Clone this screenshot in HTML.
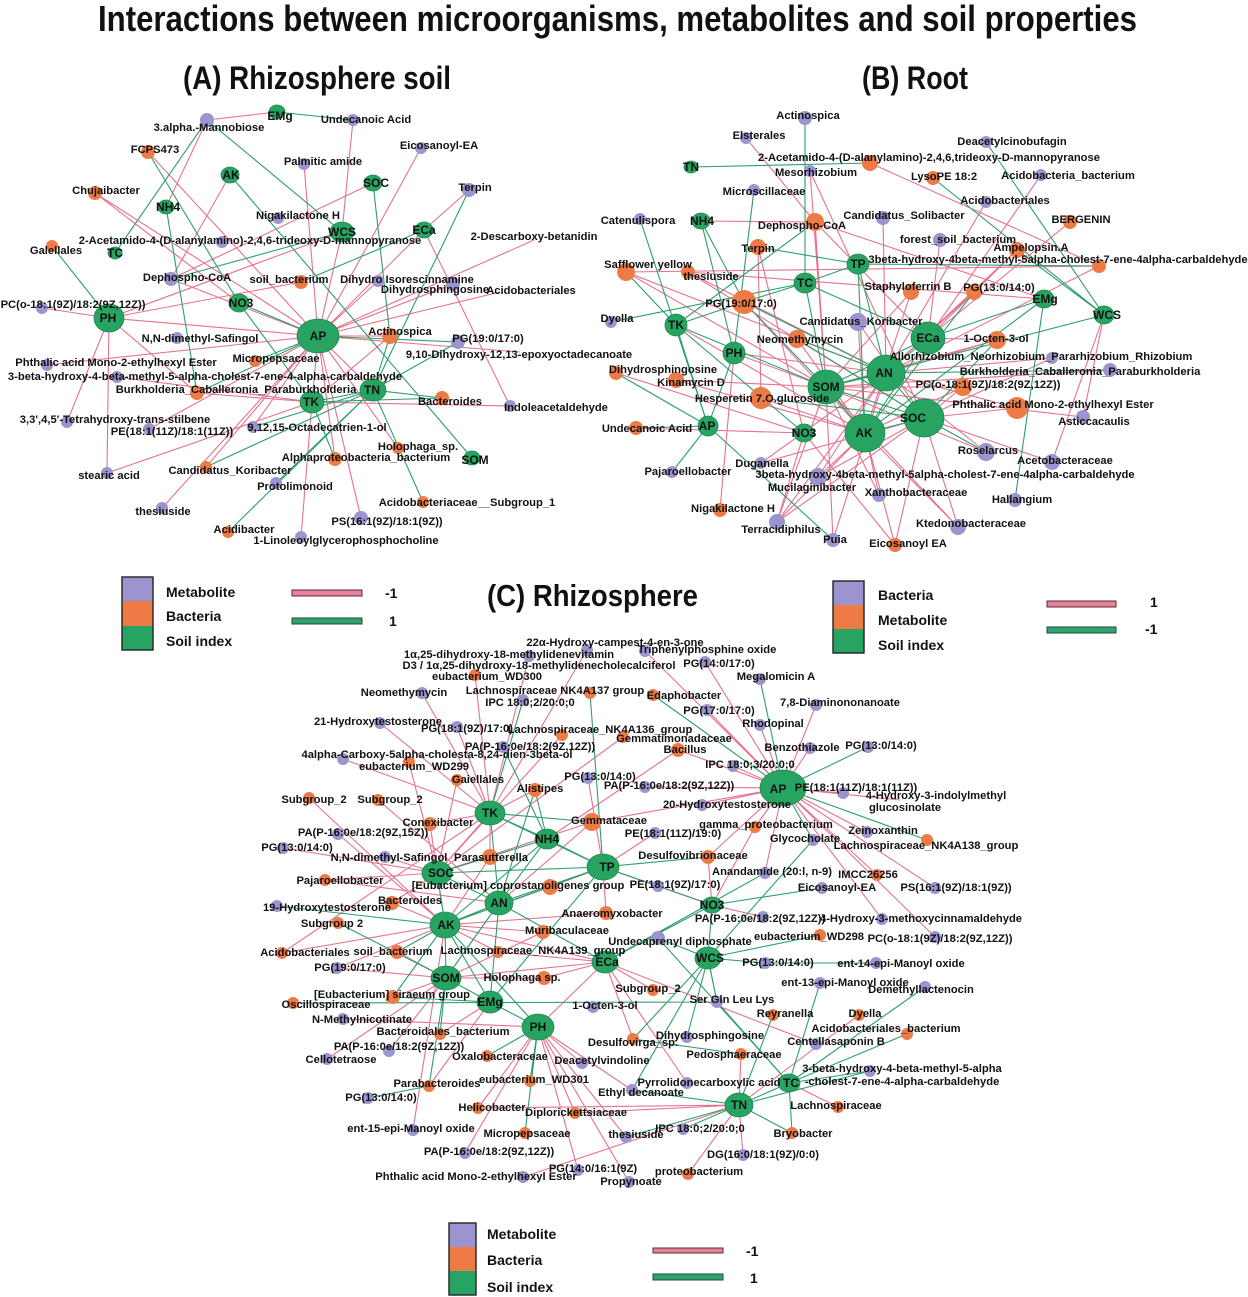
<!DOCTYPE html>
<html><head><meta charset="utf-8"><style>
html,body{margin:0;padding:0;background:#fff}
svg{display:block}
.p{stroke:#e5728f;stroke-width:1.1;fill:none}
.g{stroke:#2e9e6b;stroke-width:1.1;fill:none}
.m{fill:#9b94cf}
.b{fill:#ee7a45}
.s{fill:#28a462;stroke:#1d8a4e;stroke-width:.8}
text{font-family:"Liberation Sans",Arial,sans-serif;font-weight:bold;fill:#111}
.l text{font-size:11.2px;text-anchor:middle}
.h text{font-size:12px;text-anchor:middle}
.lg text{font-size:14px}
</style></head><body>
<svg width="1248" height="1297" viewBox="0 0 1248 1297" xmlns="http://www.w3.org/2000/svg">
<rect width="1248" height="1297" fill="#fff"/>
<text x="98" y="31" font-size="36" textLength="1039" lengthAdjust="spacingAndGlyphs">Interactions between microorganisms, metabolites and soil properties</text>
<text x="183" y="89" font-size="32" textLength="268" lengthAdjust="spacingAndGlyphs">(A) Rhizosphere soil</text>
<text x="862" y="89" font-size="32" textLength="106" lengthAdjust="spacingAndGlyphs">(B) Root</text>
<text x="487" y="606" font-size="31" textLength="211" lengthAdjust="spacingAndGlyphs">(C) Rhizosphere</text>

<!-- ===== Panel A edges ===== -->
<path class="p" d="M207 120L277 112M207 120L166 207M353 120L342 232M148 152L318 336M230 175L171 279M95 193L318 336M95 193L239 303M304 164L318 336M421 148L318 336M373 183L171 279M469 190L424 230M342 232L318 336M342 232L109 318M424 230L318 336M424 230L510 406M42 308L109 318M301 282L109 318M171 279L318 336M318 336L109 318M390 336L318 336M390 336L312 402M67 422L109 318M107 473L109 318M107 473L312 402M197 393L312 402M197 393L109 318M312 402L318 336M373 390L318 336M312 402L510 406M253 427L318 336M398 448L318 336M335 459L318 336M162 508L318 336M361 518L318 336M301 537L312 402M149 429L318 336M117 377L312 402M378 281L318 336M453 284L318 336M534 240L318 336M500 292L318 336M206 467L318 336M520 352L318 336M47 365L318 336"/>
<path class="g" d="M277 112L353 120M207 120L342 232M207 120L115 253M148 152L239 303M230 175L472 458M166 207L197 393M373 183L390 336M469 190L373 390M342 232L171 279M301 282L424 230M52 246L109 318M239 303L318 336M239 303L312 402M458 342L318 336M458 342L373 390M255 361L318 336M390 336L373 390M312 402L373 390M442 398L312 402M253 427L373 390M335 459L312 402M206 467L373 390M276 483L373 390M423 502L373 390M228 532L373 390M197 393L318 336M442 398L373 390"/>

<!-- ===== Panel B edges ===== -->
<path class="p" d="M746 138L815 222M1041 175L928 338M986 202L886 373M701 221L815 222M815 222L826 387M815 222L1044 299M815 222L928 338M883 218L886 373M1070 222L928 338M940 240L928 338M1017 250L928 338M1017 250L886 373M758 247L761 398M758 247L804 433M626 272L886 373M626 272L826 387M688 272L886 373M688 272L924 418M688 272L1044 299M911 292L865 433M911 292L826 387M974 292L886 373M744 302L865 433M676 325L865 433M858 322L865 433M858 322L924 418M928 338L997 340M997 340L886 373M997 340L826 387M797 339L865 433M734 353L886 373M734 353L826 387M1052 358L886 373M1052 358L924 418M1110 370L826 387M616 373L804 433M676 380L826 387M676 380L865 433M963 387L826 387M963 387L865 433M963 387L924 418M761 398L865 433M1017 408L924 418M1017 408L886 373M1083 417L826 387M1083 417L1104 315M636 428L804 433M804 433L777 522M804 433L895 545M986 452L826 387M986 452L886 373M1052 462L924 418M1052 462L1104 315M761 463L886 373M818 477L865 433M818 477L924 418M818 477L886 373M879 495L865 433M879 495L826 387M720 510L734 353M958 527L924 418M958 527L865 433M958 527L826 387M777 522L865 433M777 522L826 387M777 522L886 373M777 522L924 418M833 540L886 373M833 540L826 387M895 545L865 433M895 545L924 418M810 171L924 418M810 171L826 387M626 272L1099 266M761 463L924 418M1099 266L886 373M870 163L1099 266"/>
<path class="g" d="M805 118L805 283M691 167L870 163M986 142L1104 315M933 178L1104 315M754 190L734 353M640 219L708 426M815 222L676 325M758 247L858 264M626 272L676 325M858 264L805 283M858 264L886 373M858 264L865 433M858 264L1099 266M805 283L744 302M805 283L928 338M805 283L826 387M974 292L865 433M1044 299L928 338M1044 299L1015 500M1044 299L865 433M744 302L701 221M744 302L676 325M744 302L826 387M744 302L886 373M611 322L805 283M676 325L708 426M676 325L826 387M676 325L804 433M928 338L826 387M928 338L865 433M928 338L886 373M997 340L924 418M797 339L886 373M797 339L924 418M734 353L708 426M734 353L701 221M1110 370L886 373M616 373L708 426M761 398L924 418M924 418L886 373M924 418L865 433M865 433L826 387M886 373L826 387M924 418L826 387M636 428L708 426M708 426L672 472M708 426L833 540M986 452L924 418M1104 315L826 387M1017 250L1104 315"/>

<!-- ===== Panel C edges ===== -->
<path class="p" d="M587 650L490 813M529 656L490 813M475 675L490 813M645 651L783 788M705 662L783 788M816 705L783 788M422 693L490 813M380 723L490 813M457 727L490 813M562 735L437 873M707 710L783 788M760 725L783 788M810 748L783 788M733 766L783 788M343 759L490 813M409 762L437 873M678 750L783 788M678 750L547 839M623 737L437 873M457 780L437 873M588 778L603 867M645 787L783 788M535 790L490 813M309 798L445 925M378 800L499 903M702 805L783 788M490 813L437 873M430 824L490 813M430 824L445 925M592 822L783 788M592 822L437 873M592 822L499 903M755 827L783 788M755 827L712 905M867 832L783 788M338 834L445 925M655 833L603 867M283 848L437 873M385 857L437 873M490 857L437 873M490 857L445 925M490 857L490 813M708 857L783 788M708 857L712 905M603 867L712 905M765 873L783 788M877 875L783 788M783 788L935 888M325 880L437 873M325 880L499 903M550 887L603 867M550 887L445 925M658 886L712 905M658 886L603 867M392 903L437 873M392 903L445 925M606 913L603 867M606 913L445 925M763 917L712 905M882 919L783 788M935 937L783 788M543 932L445 925M543 932L446 978M282 953L445 925M282 953L490 813M397 952L446 978M498 952L605 962M498 952L445 925M445 925L605 962M605 962L446 978M605 962L538 1027M605 962L653 990M605 962L816 1044M337 968L446 978M337 968L445 925M544 978L446 978M544 978L605 962M393 997L446 978M343 1019L538 1027M538 1027L582 1063M538 1027L575 1113M538 1027L629 1182M538 1027L578 1170M538 1027L478 1108M538 1027L465 1153M538 1027L626 1137M538 1027L632 1090M741 1054L739 1105M478 1108L739 1105M523 1177L739 1105M743 1155L739 1105M688 1174L739 1105M739 1105L859 1015M838 1107L789 1083M717 1002L708 958M327 1059L446 978M389 1051L446 978M413 1130L445 925M440 1034L490 1002M429 1086L490 1002M633 1039L605 962M575 1113L739 1105M843 793L783 788M900 800L783 788M687 1083L605 962"/>
<path class="g" d="M590 693L603 867M523 700L490 813M760 679L783 788M653 695L783 788M868 747L783 788M503 747L547 839M535 790L547 839M535 790L499 903M490 813L603 867M490 813L547 839M490 813L499 903M490 813L592 822M927 840L783 788M813 840L783 788M813 840L708 958M547 839L603 867M547 839L437 873M547 839L499 903M547 839L445 925M708 857L603 867M603 867L437 873M603 867L499 903M603 867L445 925M603 867L490 1002M765 873L605 962M822 888L712 905M277 906L445 925M499 903L437 873M499 903L445 925M499 903L446 978M499 903L605 962M499 903L490 1002M712 905L603 867M712 905L605 962M712 905L708 958M338 923L446 978M445 925L446 978M445 925L437 873M445 925L490 1002M658 938L708 958M658 938L789 1083M820 935L708 958M708 958L765 963M765 963L876 963M708 958L717 1002M708 958L633 1039M708 958L632 1090M708 958L687 1037M820 983L789 1083M925 987L789 1083M907 1034L789 1083M870 1071L789 1083M870 1071L739 1105M773 1015L739 1105M717 1002L789 1083M446 978L490 1002M397 952L445 925M393 997L445 925M393 997L490 1002M490 1002L538 1027M293 1003L717 1002M538 1027L445 925M538 1027L487 1056M538 1027L530 1081M538 1027L525 1133M440 1034L446 978M429 1086L368 1098M429 1086L446 978M683 1129L739 1105M626 1137L739 1105M792 1133L739 1105M792 1133L789 1083M739 1105L789 1083M632 1090L739 1105M633 1039L741 1054"/>

<!-- ===== Panel A nodes ===== -->
<g>
<circle class="m" cx="207" cy="120" r="7"/><circle class="m" cx="353" cy="120" r="6"/><circle class="m" cx="421" cy="148" r="6"/><circle class="m" cx="304" cy="164" r="6"/><circle class="m" cx="469" cy="190" r="7"/><circle class="m" cx="278" cy="218" r="6"/><circle class="m" cx="222" cy="242" r="6"/><circle class="m" cx="171" cy="279" r="7"/><circle class="m" cx="378" cy="281" r="6"/><circle class="m" cx="453" cy="284" r="7"/><circle class="m" cx="42" cy="308" r="6"/><circle class="m" cx="458" cy="342" r="7"/><circle class="m" cx="177" cy="338" r="6"/><circle class="m" cx="47" cy="365" r="6"/><circle class="m" cx="117" cy="377" r="6"/><circle class="m" cx="510" cy="406" r="6"/><circle class="m" cx="67" cy="422" r="6"/><circle class="m" cx="149" cy="429" r="6"/><circle class="m" cx="253" cy="427" r="6"/><circle class="m" cx="107" cy="473" r="6"/><circle class="m" cx="276" cy="483" r="6"/><circle class="m" cx="162" cy="508" r="6"/><circle class="m" cx="361" cy="518" r="7"/><circle class="m" cx="301" cy="537" r="6"/>
<circle class="b" cx="148" cy="152" r="7"/><circle class="b" cx="95" cy="193" r="7"/><circle class="b" cx="52" cy="246" r="6"/><circle class="b" cx="301" cy="282" r="7"/><circle class="b" cx="390" cy="336" r="8"/><circle class="b" cx="255" cy="361" r="6"/><circle class="b" cx="197" cy="393" r="7"/><circle class="b" cx="442" cy="398" r="7"/><circle class="b" cx="398" cy="448" r="6"/><circle class="b" cx="335" cy="459" r="7"/><circle class="b" cx="206" cy="467" r="6"/><circle class="b" cx="423" cy="502" r="6"/><circle class="b" cx="228" cy="532" r="6"/>
<ellipse class="s" cx="277" cy="112" rx="8" ry="7"/><ellipse class="s" cx="230" cy="175" rx="9" ry="8"/><ellipse class="s" cx="373" cy="183" rx="9" ry="8"/><ellipse class="s" cx="166" cy="207" rx="8" ry="7"/><ellipse class="s" cx="342" cy="232" rx="12" ry="10"/><ellipse class="s" cx="424" cy="230" rx="9" ry="8"/><ellipse class="s" cx="115" cy="253" rx="7" ry="6"/><ellipse class="s" cx="239" cy="303" rx="10" ry="9"/><ellipse class="s" cx="109" cy="318" rx="15" ry="14"/><ellipse class="s" cx="318" cy="336" rx="21" ry="17"/><ellipse class="s" cx="373" cy="390" rx="13" ry="11"/><ellipse class="s" cx="312" cy="402" rx="12" ry="11"/><ellipse class="s" cx="472" cy="458" rx="8" ry="7"/>
</g>
<g class="l">
<text x="209" y="131">3.alpha.-Mannobiose</text><text x="366" y="123">Undecanoic Acid</text><text x="155" y="153">FCPS473</text><text x="439" y="149">Eicosanoyl-EA</text><text x="323" y="165">Palmitic amide</text><text x="475" y="191">Terpin</text><text x="106" y="194">Chujaibacter</text><text x="298" y="219">Nigakilactone H</text><text x="534" y="240">2-Descarboxy-betanidin</text><text x="250" y="244">2-Acetamido-4-(D-alanylamino)-2,4,6-trideoxy-D-mannopyranose</text><text x="56" y="254">Galellales</text><text x="187" y="281">Dephospho-CoA</text><text x="289" y="283">soil_bacterium</text><text x="407" y="283">Dihydro Isorescinnamine</text><text x="435" y="293">Dihydrosphingosine</text><text x="531" y="294">Acidobacteriales</text><text x="73" y="308">PC(o-18:1(9Z)/18:2(9Z,12Z))</text><text x="400" y="335">Actinospica</text><text x="488" y="342">PG(19:0/17:0)</text><text x="519" y="358">9,10-Dihydroxy-12,13-epoxyoctadecanoate</text><text x="200" y="342">N,N-dimethyl-Safingol</text><text x="116" y="366">Phthalic acid Mono-2-ethylhexyl Ester</text><text x="276" y="362">Micropepsaceae</text><text x="205" y="380">3-beta-hydroxy-4-beta-methyl-5-alpha-cholest-7-ene-4-alpha-carbaldehyde</text><text x="236" y="393">Burkholderia_Caballeronia_Paraburkholderia</text><text x="450" y="405">Bacteroides</text><text x="556" y="411">Indoleacetaldehyde</text><text x="115" y="423">3,3',4,5'-Tetrahydroxy-trans-stilbene</text><text x="172" y="435">PE(18:1(11Z)/18:1(11Z))</text><text x="317" y="431">9,12,15-Octadecatrien-1-ol</text><text x="418" y="450">Holophaga_sp.</text><text x="366" y="461">Alphaproteobacteria_bacterium</text><text x="109" y="479">stearic acid</text><text x="230" y="474">Candidatus_Koribacter</text><text x="295" y="490">Protolimonoid</text><text x="467" y="506">Acidobacteriaceae__Subgroup_1</text><text x="163" y="515">thesiuside</text><text x="387" y="525">PS(16:1(9Z)/18:1(9Z))</text><text x="244" y="533">Acidibacter</text><text x="346" y="544">1-Linoleoylglycerophosphocholine</text>
</g>
<g class="h">
<text x="280" y="120">EMg</text><text x="231" y="179">AK</text><text x="376" y="187">SOC</text><text x="168" y="211">NH4</text><text x="342" y="236">WCS</text><text x="424" y="234">ECa</text><text x="115" y="257">TC</text><text x="241" y="307">NO3</text><text x="108" y="322">PH</text><text x="318" y="340">AP</text><text x="372" y="394">TN</text><text x="311" y="406">TK</text><text x="475" y="464">SOM</text>
</g>

<!-- ===== Panel B nodes ===== -->
<g>
<circle class="m" cx="805" cy="118" r="7"/><circle class="m" cx="746" cy="138" r="6"/><circle class="m" cx="986" cy="142" r="6"/><circle class="m" cx="810" cy="171" r="6"/><circle class="m" cx="1041" cy="175" r="6"/><circle class="m" cx="754" cy="190" r="6"/><circle class="m" cx="986" cy="202" r="6"/><circle class="m" cx="640" cy="219" r="6"/><circle class="m" cx="883" cy="218" r="7"/><circle class="m" cx="940" cy="240" r="7"/><circle class="m" cx="611" cy="322" r="6"/><circle class="m" cx="858" cy="322" r="9"/><circle class="m" cx="1052" cy="358" r="6"/><circle class="m" cx="1110" cy="370" r="7"/><circle class="m" cx="1083" cy="417" r="7"/><circle class="m" cx="986" cy="452" r="9"/><circle class="m" cx="1052" cy="462" r="8"/><circle class="m" cx="761" cy="463" r="6"/><circle class="m" cx="672" cy="472" r="6"/><circle class="m" cx="818" cy="477" r="9"/><circle class="m" cx="879" cy="495" r="7"/><circle class="m" cx="1015" cy="500" r="7"/><circle class="m" cx="958" cy="527" r="8"/><circle class="m" cx="777" cy="522" r="8"/><circle class="m" cx="833" cy="540" r="7"/>
<circle class="b" cx="870" cy="163" r="8"/><circle class="b" cx="933" cy="178" r="7"/><circle class="b" cx="815" cy="222" r="9"/><circle class="b" cx="1070" cy="222" r="7"/><circle class="b" cx="1017" cy="250" r="8"/><circle class="b" cx="758" cy="247" r="8"/><circle class="b" cx="626" cy="272" r="9"/><circle class="b" cx="688" cy="272" r="7"/><circle class="b" cx="1099" cy="266" r="7"/><circle class="b" cx="911" cy="292" r="8"/><circle class="b" cx="974" cy="292" r="8"/><circle class="b" cx="744" cy="302" r="12"/><circle class="b" cx="997" cy="340" r="9"/><circle class="b" cx="797" cy="339" r="9"/><circle class="b" cx="616" cy="373" r="7"/><circle class="b" cx="676" cy="380" r="8"/><circle class="b" cx="963" cy="387" r="9"/><circle class="b" cx="761" cy="398" r="11"/><circle class="b" cx="1017" cy="408" r="11"/><circle class="b" cx="636" cy="428" r="7"/><circle class="b" cx="720" cy="510" r="7"/><circle class="b" cx="895" cy="545" r="7"/>
<ellipse class="s" cx="691" cy="167" rx="7" ry="6"/><ellipse class="s" cx="701" cy="221" rx="9" ry="8"/><ellipse class="s" cx="858" cy="264" rx="11" ry="10"/><ellipse class="s" cx="805" cy="283" rx="11" ry="10"/><ellipse class="s" cx="1044" cy="299" rx="10" ry="9"/><ellipse class="s" cx="1104" cy="315" rx="10" ry="9"/><ellipse class="s" cx="676" cy="325" rx="11" ry="11"/><ellipse class="s" cx="928" cy="338" rx="17" ry="16"/><ellipse class="s" cx="734" cy="353" rx="11" ry="11"/><ellipse class="s" cx="886" cy="373" rx="19" ry="18"/><ellipse class="s" cx="826" cy="387" rx="18" ry="17"/><ellipse class="s" cx="924" cy="418" rx="20" ry="19"/><ellipse class="s" cx="865" cy="433" rx="20" ry="19"/><ellipse class="s" cx="708" cy="426" rx="10" ry="10"/><ellipse class="s" cx="804" cy="433" rx="10" ry="9"/>
</g>
<g class="l">
<text x="808" y="119">Actinospica</text><text x="759" y="139">Elsterales</text><text x="1012" y="145">Deacetylcinobufagin</text><text x="929" y="161">2-Acetamido-4-(D-alanylamino)-2,4,6,trideoxy-D-mannopyranose</text><text x="816" y="176">Mesorhizobium</text><text x="944" y="180">LysoPE 18:2</text><text x="1068" y="179">Acidobacteria_bacterium</text><text x="764" y="195">Microscillaceae</text><text x="1005" y="204">Acidobacteriales</text><text x="638" y="224">Catenulispora</text><text x="802" y="229">Dephospho-CoA</text><text x="904" y="219">Candidatus_Solibacter</text><text x="1081" y="223">BERGENIN</text><text x="958" y="243">forest_soil_bacterium</text><text x="1031" y="251">Ampelopsin.A</text><text x="758" y="252">Terpin</text><text x="648" y="268">Safflower yellow</text><text x="711" y="280">thesiuside</text><text x="1058" y="263">3beta-hydroxy-4beta-methyl-5alpha-cholest-7-ene-4alpha-carbaldehyde</text><text x="908" y="290">Staphyloferrin B</text><text x="999" y="291">PG(13:0/14:0)</text><text x="741" y="307">PG(19:0/17:0)</text><text x="617" y="322">Dyella</text><text x="861" y="325">Candidatus_Koribacter</text><text x="996" y="342">1-Octen-3-ol</text><text x="800" y="343">Neomethymycin</text><text x="1041" y="360">Allorhizobium_Neorhizobium_Pararhizobium_Rhizobium</text><text x="1080" y="375">Burkholderia_Caballeronia_Paraburkholderia</text><text x="663" y="373">Dihydrosphingosine</text><text x="691" y="386">Kinamycin D</text><text x="988" y="388">PC(o-18:1(9Z)/18:2(9Z,12Z))</text><text x="762" y="402">Hesperetin 7.O.glucoside</text><text x="1053" y="408">Phthalic acid Mono-2-ethylhexyl Ester</text><text x="1094" y="425">Asticcacaulis</text><text x="647" y="432">Undecanoic Acid</text><text x="988" y="454">Roselarcus</text><text x="1065" y="464">Acetobacteraceae</text><text x="762" y="467">Duganella</text><text x="688" y="475">Pajaroellobacter</text><text x="945" y="478">3beta-hydroxy-4beta-methyl-5alpha-cholest-7-ene-4alpha-carbaldehyde</text><text x="812" y="491">Mucilaginibacter</text><text x="916" y="496">Xanthobacteraceae</text><text x="1022" y="503">Hallangium</text><text x="733" y="512">Nigakilactone H</text><text x="971" y="527">Ktedonobacteraceae</text><text x="781" y="533">Terracidiphilus</text><text x="835" y="543">Puia</text><text x="908" y="547">Eicosanoyl EA</text>
</g>
<g class="h">
<text x="691" y="171">TN</text><text x="702" y="225">NH4</text><text x="858" y="268">TP</text><text x="805" y="287">TC</text><text x="1045" y="303">EMg</text><text x="1107" y="319">WCS</text><text x="676" y="329">TK</text><text x="928" y="342">ECa</text><text x="734" y="357">PH</text><text x="884" y="377">AN</text><text x="826" y="391">SOM</text><text x="913" y="422">SOC</text><text x="864" y="437">AK</text><text x="707" y="430">AP</text><text x="804" y="437">NO3</text>
</g>

<!-- ===== Panel C nodes ===== -->
<g>
<circle class="m" cx="587" cy="650" r="6"/><circle class="m" cx="529" cy="656" r="6"/><circle class="m" cx="645" cy="651" r="6"/><circle class="m" cx="705" cy="662" r="6"/><circle class="m" cx="422" cy="693" r="6"/><circle class="m" cx="523" cy="700" r="6"/><circle class="m" cx="760" cy="679" r="6"/><circle class="m" cx="380" cy="723" r="6"/><circle class="m" cx="457" cy="727" r="6"/><circle class="m" cx="816" cy="705" r="6"/><circle class="m" cx="707" cy="710" r="6"/><circle class="m" cx="760" cy="725" r="6"/><circle class="m" cx="503" cy="747" r="6"/><circle class="m" cx="343" cy="759" r="6"/><circle class="m" cx="810" cy="748" r="6"/><circle class="m" cx="868" cy="747" r="6"/><circle class="m" cx="733" cy="766" r="6"/><circle class="m" cx="588" cy="778" r="6"/><circle class="m" cx="645" cy="787" r="6"/><circle class="m" cx="843" cy="793" r="6"/><circle class="m" cx="702" cy="805" r="6"/><circle class="m" cx="867" cy="832" r="6"/><circle class="m" cx="813" cy="840" r="6"/><circle class="m" cx="338" cy="834" r="6"/><circle class="m" cx="655" cy="833" r="6"/><circle class="m" cx="283" cy="848" r="6"/><circle class="m" cx="385" cy="857" r="6"/><circle class="m" cx="765" cy="873" r="6"/><circle class="m" cx="658" cy="886" r="6"/><circle class="m" cx="822" cy="888" r="6"/><circle class="m" cx="935" cy="888" r="6"/><circle class="m" cx="277" cy="906" r="6"/><circle class="m" cx="763" cy="917" r="6"/><circle class="m" cx="882" cy="919" r="6"/><circle class="m" cx="658" cy="938" r="7"/><circle class="m" cx="935" cy="937" r="6"/><circle class="m" cx="765" cy="963" r="6"/><circle class="m" cx="876" cy="963" r="6"/><circle class="m" cx="337" cy="968" r="6"/><circle class="m" cx="820" cy="983" r="6"/><circle class="m" cx="925" cy="987" r="6"/><circle class="m" cx="593" cy="1007" r="6"/><circle class="m" cx="717" cy="1002" r="6"/><circle class="m" cx="343" cy="1019" r="6"/><circle class="m" cx="687" cy="1037" r="6"/><circle class="m" cx="816" cy="1044" r="6"/><circle class="m" cx="389" cy="1051" r="6"/><circle class="m" cx="327" cy="1059" r="6"/><circle class="m" cx="582" cy="1063" r="6"/><circle class="m" cx="870" cy="1071" r="6"/><circle class="m" cx="687" cy="1083" r="6"/><circle class="m" cx="632" cy="1090" r="6"/><circle class="m" cx="368" cy="1098" r="6"/><circle class="m" cx="413" cy="1130" r="6"/><circle class="m" cx="683" cy="1129" r="6"/><circle class="m" cx="626" cy="1137" r="6"/><circle class="m" cx="465" cy="1153" r="6"/><circle class="m" cx="743" cy="1155" r="6"/><circle class="m" cx="578" cy="1170" r="6"/><circle class="m" cx="523" cy="1177" r="6"/><circle class="m" cx="629" cy="1182" r="6"/>
<circle class="b" cx="475" cy="675" r="6"/><circle class="b" cx="590" cy="693" r="6"/><circle class="b" cx="653" cy="695" r="6"/><circle class="b" cx="562" cy="735" r="6"/><circle class="b" cx="623" cy="737" r="6"/><circle class="b" cx="409" cy="762" r="6"/><circle class="b" cx="678" cy="750" r="7"/><circle class="b" cx="457" cy="780" r="6"/><circle class="b" cx="535" cy="790" r="7"/><circle class="b" cx="309" cy="798" r="6"/><circle class="b" cx="378" cy="800" r="6"/><circle class="b" cx="430" cy="824" r="7"/><circle class="b" cx="592" cy="822" r="9"/><circle class="b" cx="755" cy="827" r="6"/><circle class="b" cx="927" cy="840" r="6"/><circle class="b" cx="490" cy="857" r="8"/><circle class="b" cx="708" cy="857" r="7"/><circle class="b" cx="877" cy="875" r="6"/><circle class="b" cx="325" cy="880" r="6"/><circle class="b" cx="550" cy="887" r="8"/><circle class="b" cx="392" cy="903" r="7"/><circle class="b" cx="606" cy="913" r="7"/><circle class="b" cx="338" cy="923" r="6"/><circle class="b" cx="543" cy="932" r="7"/><circle class="b" cx="820" cy="935" r="6"/><circle class="b" cx="282" cy="953" r="6"/><circle class="b" cx="397" cy="952" r="7"/><circle class="b" cx="498" cy="952" r="6"/><circle class="b" cx="544" cy="978" r="7"/><circle class="b" cx="653" cy="990" r="6"/><circle class="b" cx="393" cy="997" r="7"/><circle class="b" cx="293" cy="1003" r="6"/><circle class="b" cx="773" cy="1015" r="6"/><circle class="b" cx="859" cy="1015" r="6"/><circle class="b" cx="440" cy="1034" r="6"/><circle class="b" cx="907" cy="1034" r="6"/><circle class="b" cx="633" cy="1039" r="6"/><circle class="b" cx="487" cy="1056" r="6"/><circle class="b" cx="741" cy="1054" r="6"/><circle class="b" cx="530" cy="1081" r="6"/><circle class="b" cx="429" cy="1086" r="6"/><circle class="b" cx="838" cy="1107" r="6"/><circle class="b" cx="478" cy="1108" r="6"/><circle class="b" cx="575" cy="1113" r="6"/><circle class="b" cx="525" cy="1133" r="6"/><circle class="b" cx="792" cy="1133" r="6"/><circle class="b" cx="688" cy="1174" r="6"/>
<ellipse class="s" cx="783" cy="788" rx="23" ry="18"/><ellipse class="s" cx="490" cy="813" rx="15" ry="12"/><ellipse class="s" cx="547" cy="839" rx="12" ry="10"/><ellipse class="s" cx="603" cy="867" rx="16" ry="13"/><ellipse class="s" cx="437" cy="873" rx="15" ry="12"/><ellipse class="s" cx="499" cy="903" rx="14" ry="12"/><ellipse class="s" cx="712" cy="905" rx="10" ry="8"/><ellipse class="s" cx="445" cy="925" rx="15" ry="13"/><ellipse class="s" cx="605" cy="962" rx="13" ry="11"/><ellipse class="s" cx="708" cy="958" rx="13" ry="11"/><ellipse class="s" cx="446" cy="978" rx="15" ry="12"/><ellipse class="s" cx="490" cy="1002" rx="13" ry="11"/><ellipse class="s" cx="538" cy="1027" rx="16" ry="13"/><ellipse class="s" cx="789" cy="1083" rx="11" ry="9"/><ellipse class="s" cx="739" cy="1105" rx="14" ry="12"/>
</g>
<g class="l">
<text x="615" y="646">22α-Hydroxy-campest-4-en-3-one</text><text x="509" y="658">1α,25-dihydroxy-18-methylidenevitamin</text><text x="539" y="669">D3 / 1α,25-dihydroxy-18-methylidenecholecalciferol</text><text x="487" y="680">eubacterium_WD300</text><text x="707" y="653">Triphenylphosphine oxide</text><text x="719" y="667">PG(14:0/17:0)</text><text x="404" y="696">Neomethymycin</text><text x="555" y="694">Lachnospiraceae  NK4A137  group</text><text x="684" y="699">Edaphobacter</text><text x="530" y="706">IPC 18:0;2/20:0;0</text><text x="776" y="680">Megalomicin A</text><text x="378" y="725">21-Hydroxytestosterone</text><text x="467" y="732">PG(18:1(9Z)/17:0)</text><text x="600" y="733">Lachnospiraceae_NK4A136_group</text><text x="840" y="706">7,8-Diaminononanoate</text><text x="719" y="714">PG(17:0/17:0)</text><text x="674" y="742">Gemmatimonadaceae</text><text x="773" y="727">Rhodopinal</text><text x="530" y="750">PA(P-16:0e/18:2(9Z,12Z))</text><text x="437" y="758">4alpha-Carboxy-5alpha-cholesta-8,24-dien-3beta-ol</text><text x="414" y="770">eubacterium_WD299</text><text x="685" y="753">Bacillus</text><text x="802" y="751">Benzothiazole</text><text x="881" y="749">PG(13:0/14:0)</text><text x="478" y="783">Gaiellales</text><text x="750" y="768">IPC 18:0;3/20:0;0</text><text x="600" y="780">PG(13:0/14:0)</text><text x="669" y="789">PA(P-16:0e/18:2(9Z,12Z))</text><text x="540" y="792">Alistipes</text><text x="856" y="791">PE(18:1(11Z)/18:1(11Z))</text><text x="936" y="799">4-Hydroxy-3-indolylmethyl</text><text x="905" y="811">glucosinolate</text><text x="314" y="803">Subgroup_2</text><text x="390" y="803">Subgroup_2</text><text x="727" y="808">20-Hydroxytestosterone</text><text x="438" y="826">Conexibacter</text><text x="609" y="824">Gemmataceae</text><text x="766" y="828">gamma_proteobacterium</text><text x="883" y="834">Zeinoxanthin</text><text x="805" y="842">Glycocholate</text><text x="926" y="849">Lachnospiraceae_NK4A138_group</text><text x="363" y="836">PA(P-16:0e/18:2(9Z,15Z))</text><text x="673" y="837">PE(18:1(11Z)/19:0)</text><text x="297" y="851">PG(13:0/14:0)</text><text x="389" y="861">N,N-dimethyl-Safingol</text><text x="491" y="861">Parasutterella</text><text x="693" y="859">Desulfovibrionaceae</text><text x="772" y="875">Anandamide (20:l, n-9)</text><text x="868" y="878">IMCC26256</text><text x="340" y="884">Pajaroellobacter</text><text x="518" y="889">[Eubacterium]  coprostanoligenes  group</text><text x="675" y="888">PE(18:1(9Z)/17:0)</text><text x="837" y="891">Eicosanoyl-EA</text><text x="956" y="891">PS(16:1(9Z)/18:1(9Z))</text><text x="410" y="904">Bacteroides</text><text x="327" y="911">19-Hydroxytestosterone</text><text x="612" y="917">Anaeromyxobacter</text><text x="760" y="922">PA(P-16:0e/18:2(9Z,12Z))</text><text x="921" y="922">4-Hydroxy-3-methoxycinnamaldehyde</text><text x="332" y="927">Subgroup  2</text><text x="567" y="934">Muribaculaceae</text><text x="680" y="945">Undecaprenyl diphosphate</text><text x="809" y="940">eubacterium_WD298</text><text x="940" y="942">PC(o-18:1(9Z)/18:2(9Z,12Z))</text><text x="305" y="956">Acidobacteriales</text><text x="393" y="955">soil_bacterium</text><text x="533" y="954">Lachnospiraceae_NK4A139_group</text><text x="778" y="966">PG(13:0/14:0)</text><text x="901" y="967">ent-14-epi-Manoyl oxide</text><text x="350" y="971">PG(19:0/17:0)</text><text x="522" y="981">Holophaga  sp.</text><text x="648" y="992">Subgroup_2</text><text x="845" y="986">ent-13-epi-Manoyl oxide</text><text x="921" y="993">Demethyllactenocin</text><text x="392" y="998">[Eubacterium]  siraeum  group</text><text x="326" y="1008">Oscillospiraceae</text><text x="605" y="1009">1-Octen-3-ol</text><text x="732" y="1003">Ser Gln Leu Lys</text><text x="785" y="1017">Reyranella</text><text x="865" y="1017">Dyella</text><text x="362" y="1023">N-Methylnicotinate</text><text x="443" y="1035">Bacteroidales_bacterium</text><text x="886" y="1032">Acidobacteriales_bacterium</text><text x="633" y="1046">Desulfovirga_sp.</text><text x="710" y="1039">Dihydrosphingosine</text><text x="836" y="1045">Centellasaponin B</text><text x="399" y="1050">PA(P-16:0e/18:2(9Z,12Z))</text><text x="341" y="1063">Cellotetraose</text><text x="500" y="1060">Oxalobacteraceae</text><text x="602" y="1064">Deacetylvindoline</text><text x="734" y="1058">Pedosphaeraceae</text><text x="902" y="1072">3-beta-hydroxy-4-beta-methyl-5-alpha</text><text x="902" y="1085">-cholest-7-ene-4-alpha-carbaldehyde</text><text x="709" y="1086">Pyrrolidonecarboxylic acid</text><text x="534" y="1083">eubacterium_WD301</text><text x="437" y="1087">Parabacteroides</text><text x="641" y="1096">Ethyl decanoate</text><text x="381" y="1101">PG(13:0/14:0)</text><text x="836" y="1109">Lachnospiraceae</text><text x="492" y="1111">Helicobacter</text><text x="576" y="1116">Diplorickettsiaceae</text><text x="411" y="1132">ent-15-epi-Manoyl oxide</text><text x="527" y="1137">Micropepsaceae</text><text x="700" y="1132">IPC 18:0;2/20:0;0</text><text x="636" y="1138">thesiuside</text><text x="803" y="1137">Bryobacter</text><text x="489" y="1155">PA(P-16:0e/18:2(9Z,12Z))</text><text x="763" y="1158">DG(16:0/18:1(9Z)/0:0)</text><text x="593" y="1172">PG(14:0/16:1(9Z)</text><text x="476" y="1180">Phthalic acid Mono-2-ethylhexyl Ester</text><text x="631" y="1185">Propynoate</text><text x="699" y="1175">proteobacterium</text>
</g>
<g class="h">
<text x="778" y="793">AP</text><text x="490" y="817">TK</text><text x="547" y="843">NH4</text><text x="607" y="871">TP</text><text x="441" y="877">SOC</text><text x="499" y="907">AN</text><text x="712" y="909">NO3</text><text x="446" y="929">AK</text><text x="607" y="966">ECa</text><text x="710" y="962">WCS</text><text x="446" y="982">SOM</text><text x="490" y="1006">EMg</text><text x="538" y="1031">PH</text><text x="791" y="1087">TC</text><text x="739" y="1109">TN</text>
</g>

<!-- ===== Legends ===== -->
<g class="lg">
<rect x="122" y="577" width="31" height="24" fill="#9b94cf"/><rect x="122" y="601" width="31" height="25" fill="#ee7a45"/><rect x="122" y="626" width="31" height="24" fill="#28a462"/><rect x="122" y="577" width="31" height="73" fill="none" stroke="#222" stroke-width="1.4"/>
<text x="166" y="597">Metabolite</text><text x="166" y="621">Bacteria</text><text x="166" y="646">Soil index</text>
<rect x="292" y="590" width="70" height="6" fill="#e8819a" stroke="#5a2a35" stroke-width="1"/><rect x="292" y="618" width="70" height="6" fill="#2fa36b" stroke="#1f4a35" stroke-width="1"/>
<text x="385" y="598">-1</text><text x="389" y="626">1</text>

<rect x="833" y="581" width="31" height="24" fill="#9b94cf"/><rect x="833" y="605" width="31" height="24" fill="#ee7a45"/><rect x="833" y="629" width="31" height="24" fill="#28a462"/><rect x="833" y="581" width="31" height="72" fill="none" stroke="#222" stroke-width="1.4"/>
<text x="878" y="600">Bacteria</text><text x="878" y="625">Metabolite</text><text x="878" y="650">Soil index</text>
<rect x="1047" y="601" width="69" height="6" fill="#e8819a" stroke="#5a2a35" stroke-width="1"/><rect x="1047" y="627" width="69" height="6" fill="#2fa36b" stroke="#1f4a35" stroke-width="1"/>
<text x="1150" y="607">1</text><text x="1145" y="634">-1</text>

<rect x="449" y="1223" width="27" height="24" fill="#9b94cf"/><rect x="449" y="1247" width="27" height="24" fill="#ee7a45"/><rect x="449" y="1271" width="27" height="24" fill="#28a462"/><rect x="449" y="1223" width="27" height="72" fill="none" stroke="#222" stroke-width="1.4"/>
<text x="487" y="1239" font-size="15">Metabolite</text><text x="487" y="1265" font-size="15">Bacteria</text><text x="487" y="1292" font-size="15">Soil index</text>
<rect x="653" y="1248" width="70" height="5" fill="#e8819a" stroke="#5a2a35" stroke-width="1"/><rect x="653" y="1274" width="70" height="6" fill="#2fa36b" stroke="#1f4a35" stroke-width="1"/>
<text x="746" y="1256">-1</text><text x="750" y="1283">1</text>
</g>
</svg>
</body></html>
